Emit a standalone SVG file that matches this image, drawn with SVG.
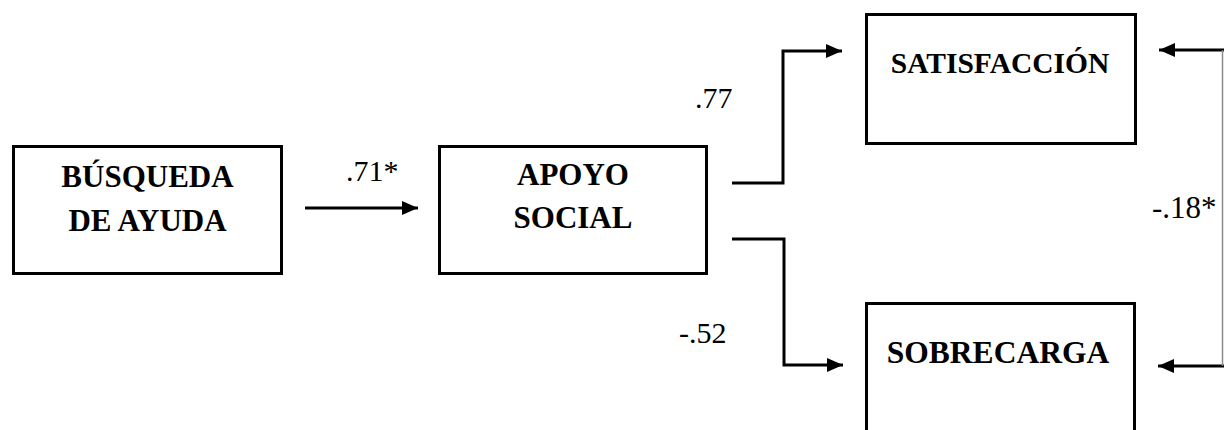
<svg xmlns="http://www.w3.org/2000/svg" width="1224" height="430" viewBox="0 0 1224 430">
<style>
.box{fill:#fff;stroke:#000;stroke-width:3}
.lbl{font-family:"Liberation Serif","Times New Roman",serif;font-weight:bold;font-size:31px;fill:#000;text-anchor:middle}
.num{font-family:"Liberation Serif","Times New Roman",serif;font-size:30px;fill:#000}
.con{fill:none;stroke:#000;stroke-width:3}
.thin{fill:none;stroke:#8a8a8a;stroke-width:1.5}
</style>
<defs>
<marker id="ah" markerUnits="userSpaceOnUse" markerWidth="16" markerHeight="14" refX="16" refY="7" orient="auto">
<path d="M0,0 L16,7 L0,14 z" fill="#000"/>
</marker>
</defs>
<rect width="1224" height="430" fill="#fff"/>
<g id="busqueda">
<rect class="box" x="13.5" y="146.5" width="268" height="127"/>
<text class="lbl" x="147.5" y="187">BÚSQUEDA</text>
<text class="lbl" x="147.5" y="231">DE AYUDA</text>
</g>
<g id="apoyo">
<rect class="box" x="439.5" y="146.5" width="267" height="127"/>
<text class="lbl" x="573" y="185">APOYO</text>
<text class="lbl" x="573" y="228">SOCIAL</text>
</g>
<g id="satisfaccion">
<rect class="box" x="866.5" y="14.5" width="269" height="129"/>
<text class="lbl" x="1000" y="73" style="font-size:29.5px">SATISFACCIÓN</text>
</g>
<g id="sobrecarga">
<rect class="box" x="866.5" y="303.5" width="268" height="160"/>
<text class="lbl" x="998" y="363" style="font-size:31.5px">SOBRECARGA</text>
</g>
<g id="connectors">
<path class="con" d="M305,208 H418" marker-end="url(#ah)"/>
<path class="con" d="M732,183 H783 V51 H842" marker-end="url(#ah)"/>
<path class="con" d="M732,239 H784 V365 H843" marker-end="url(#ah)"/>
<path class="con" d="M1224,50 H1159" marker-end="url(#ah)"/>
<path class="con" d="M1224,366 H1158" marker-end="url(#ah)"/>
<path class="thin" d="M1222.5,50 V366"/>
</g>
<g id="labels">
<text class="num" x="346" y="181">.71*</text>
<text class="num" x="695" y="108">.77</text>
<text class="num" x="679" y="343">-.52</text>
<text class="num" x="1152" y="218" style="font-size:31px">-.18*</text>
</g>
</svg>
